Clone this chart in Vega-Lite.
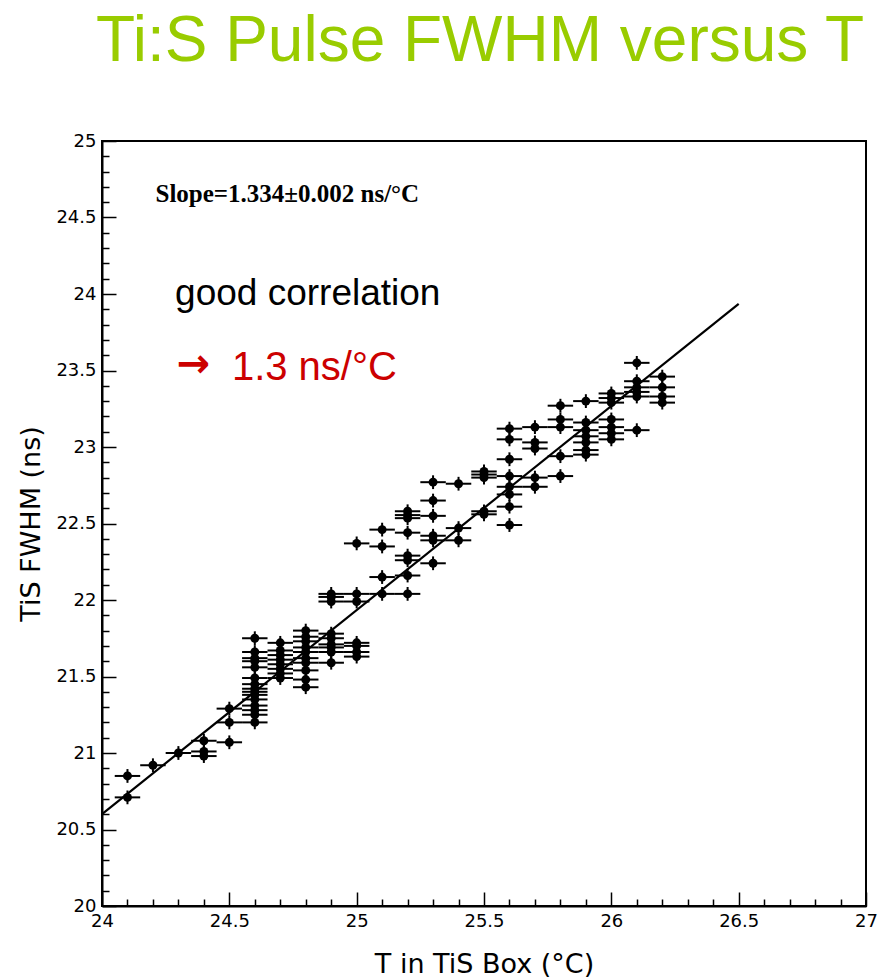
{
  "$schema": "https://vega.github.io/schema/vega-lite/v6.json",
  "width": 764,
  "height": 765,
  "autosize": {"type": "none"},
  "padding": {"left": 102, "top": 141, "right": 19, "bottom": 73},
  "background": "white",
  "title": {
    "text": "Ti:S Pulse FWHM versus T",
    "font": "Liberation Sans",
    "fontSize": 64,
    "fontWeight": "normal",
    "color": "#99CC00",
    "anchor": "middle",
    "dx": -4,
    "offset": 58
  },
  "datasets": {
    "runs": [
      {"t": 24.1, "f": 20.85, "te": 0.05, "fe": 0.045},
      {"t": 24.1, "f": 20.71, "te": 0.05, "fe": 0.045},
      {"t": 24.2, "f": 20.92, "te": 0.05, "fe": 0.045},
      {"t": 24.3, "f": 21.0, "te": 0.05, "fe": 0.045},
      {"t": 24.4, "f": 21.08, "te": 0.05, "fe": 0.045},
      {"t": 24.4, "f": 21.01, "te": 0.05, "fe": 0.045},
      {"t": 24.4, "f": 20.98, "te": 0.05, "fe": 0.045},
      {"t": 24.5, "f": 21.29, "te": 0.05, "fe": 0.045},
      {"t": 24.5, "f": 21.2, "te": 0.05, "fe": 0.045},
      {"t": 24.5, "f": 21.07, "te": 0.05, "fe": 0.045},
      {"t": 24.6, "f": 21.75, "te": 0.05, "fe": 0.045},
      {"t": 24.6, "f": 21.66, "te": 0.05, "fe": 0.045},
      {"t": 24.6, "f": 21.62, "te": 0.05, "fe": 0.045},
      {"t": 24.6, "f": 21.6, "te": 0.05, "fe": 0.045},
      {"t": 24.6, "f": 21.56, "te": 0.05, "fe": 0.045},
      {"t": 24.6, "f": 21.49, "te": 0.05, "fe": 0.045},
      {"t": 24.6, "f": 21.45, "te": 0.05, "fe": 0.045},
      {"t": 24.6, "f": 21.42, "te": 0.05, "fe": 0.045},
      {"t": 24.6, "f": 21.4, "te": 0.05, "fe": 0.045},
      {"t": 24.6, "f": 21.38, "te": 0.05, "fe": 0.045},
      {"t": 24.6, "f": 21.35, "te": 0.05, "fe": 0.045},
      {"t": 24.6, "f": 21.31, "te": 0.05, "fe": 0.045},
      {"t": 24.6, "f": 21.28, "te": 0.05, "fe": 0.045},
      {"t": 24.6, "f": 21.25, "te": 0.05, "fe": 0.045},
      {"t": 24.6, "f": 21.2, "te": 0.05, "fe": 0.045},
      {"t": 24.7, "f": 21.72, "te": 0.05, "fe": 0.045},
      {"t": 24.7, "f": 21.67, "te": 0.05, "fe": 0.045},
      {"t": 24.7, "f": 21.64, "te": 0.05, "fe": 0.045},
      {"t": 24.7, "f": 21.61, "te": 0.05, "fe": 0.045},
      {"t": 24.7, "f": 21.58, "te": 0.05, "fe": 0.045},
      {"t": 24.7, "f": 21.55, "te": 0.05, "fe": 0.045},
      {"t": 24.7, "f": 21.52, "te": 0.05, "fe": 0.045},
      {"t": 24.7, "f": 21.49, "te": 0.05, "fe": 0.045},
      {"t": 24.8, "f": 21.8, "te": 0.05, "fe": 0.045},
      {"t": 24.8, "f": 21.76, "te": 0.05, "fe": 0.045},
      {"t": 24.8, "f": 21.73, "te": 0.05, "fe": 0.045},
      {"t": 24.8, "f": 21.69, "te": 0.05, "fe": 0.045},
      {"t": 24.8, "f": 21.66, "te": 0.05, "fe": 0.045},
      {"t": 24.8, "f": 21.62, "te": 0.05, "fe": 0.045},
      {"t": 24.8, "f": 21.59, "te": 0.05, "fe": 0.045},
      {"t": 24.8, "f": 21.54, "te": 0.05, "fe": 0.045},
      {"t": 24.8, "f": 21.48, "te": 0.05, "fe": 0.045},
      {"t": 24.8, "f": 21.43, "te": 0.05, "fe": 0.045},
      {"t": 24.9, "f": 22.04, "te": 0.05, "fe": 0.045},
      {"t": 24.9, "f": 22.02, "te": 0.05, "fe": 0.045},
      {"t": 24.9, "f": 21.99, "te": 0.05, "fe": 0.045},
      {"t": 24.9, "f": 21.78, "te": 0.05, "fe": 0.045},
      {"t": 24.9, "f": 21.75, "te": 0.05, "fe": 0.045},
      {"t": 24.9, "f": 21.71, "te": 0.05, "fe": 0.045},
      {"t": 24.9, "f": 21.69, "te": 0.05, "fe": 0.045},
      {"t": 24.9, "f": 21.66, "te": 0.05, "fe": 0.045},
      {"t": 24.9, "f": 21.59, "te": 0.05, "fe": 0.045},
      {"t": 25.0, "f": 22.37, "te": 0.05, "fe": 0.045},
      {"t": 25.0, "f": 22.04, "te": 0.05, "fe": 0.045},
      {"t": 25.0, "f": 21.99, "te": 0.05, "fe": 0.045},
      {"t": 25.0, "f": 21.72, "te": 0.05, "fe": 0.045},
      {"t": 25.0, "f": 21.7, "te": 0.05, "fe": 0.045},
      {"t": 25.0, "f": 21.66, "te": 0.05, "fe": 0.045},
      {"t": 25.0, "f": 21.63, "te": 0.05, "fe": 0.045},
      {"t": 25.1, "f": 22.46, "te": 0.05, "fe": 0.045},
      {"t": 25.1, "f": 22.35, "te": 0.05, "fe": 0.045},
      {"t": 25.1, "f": 22.15, "te": 0.05, "fe": 0.045},
      {"t": 25.1, "f": 22.04, "te": 0.05, "fe": 0.045},
      {"t": 25.2, "f": 22.58, "te": 0.05, "fe": 0.045},
      {"t": 25.2, "f": 22.555, "te": 0.05, "fe": 0.045},
      {"t": 25.2, "f": 22.535, "te": 0.05, "fe": 0.045},
      {"t": 25.2, "f": 22.44, "te": 0.05, "fe": 0.045},
      {"t": 25.2, "f": 22.29, "te": 0.05, "fe": 0.045},
      {"t": 25.2, "f": 22.26, "te": 0.05, "fe": 0.045},
      {"t": 25.2, "f": 22.16, "te": 0.05, "fe": 0.045},
      {"t": 25.2, "f": 22.04, "te": 0.05, "fe": 0.045},
      {"t": 25.3, "f": 22.77, "te": 0.05, "fe": 0.045},
      {"t": 25.3, "f": 22.65, "te": 0.05, "fe": 0.045},
      {"t": 25.3, "f": 22.55, "te": 0.05, "fe": 0.045},
      {"t": 25.3, "f": 22.42, "te": 0.05, "fe": 0.045},
      {"t": 25.3, "f": 22.39, "te": 0.05, "fe": 0.045},
      {"t": 25.3, "f": 22.24, "te": 0.05, "fe": 0.045},
      {"t": 25.4, "f": 22.76, "te": 0.05, "fe": 0.045},
      {"t": 25.4, "f": 22.47, "te": 0.05, "fe": 0.045},
      {"t": 25.4, "f": 22.39, "te": 0.05, "fe": 0.045},
      {"t": 25.5, "f": 22.84, "te": 0.05, "fe": 0.045},
      {"t": 25.5, "f": 22.82, "te": 0.05, "fe": 0.045},
      {"t": 25.5, "f": 22.8, "te": 0.05, "fe": 0.045},
      {"t": 25.5, "f": 22.58, "te": 0.05, "fe": 0.045},
      {"t": 25.5, "f": 22.56, "te": 0.05, "fe": 0.045},
      {"t": 25.6, "f": 23.12, "te": 0.05, "fe": 0.045},
      {"t": 25.6, "f": 23.05, "te": 0.05, "fe": 0.045},
      {"t": 25.6, "f": 22.92, "te": 0.05, "fe": 0.045},
      {"t": 25.6, "f": 22.81, "te": 0.05, "fe": 0.045},
      {"t": 25.6, "f": 22.74, "te": 0.05, "fe": 0.045},
      {"t": 25.6, "f": 22.69, "te": 0.05, "fe": 0.045},
      {"t": 25.6, "f": 22.61, "te": 0.05, "fe": 0.045},
      {"t": 25.6, "f": 22.49, "te": 0.05, "fe": 0.045},
      {"t": 25.7, "f": 23.13, "te": 0.05, "fe": 0.045},
      {"t": 25.7, "f": 23.03, "te": 0.05, "fe": 0.045},
      {"t": 25.7, "f": 22.99, "te": 0.05, "fe": 0.045},
      {"t": 25.7, "f": 22.8, "te": 0.05, "fe": 0.045},
      {"t": 25.7, "f": 22.74, "te": 0.05, "fe": 0.045},
      {"t": 25.8, "f": 23.27, "te": 0.05, "fe": 0.045},
      {"t": 25.8, "f": 23.18, "te": 0.05, "fe": 0.045},
      {"t": 25.8, "f": 23.13, "te": 0.05, "fe": 0.045},
      {"t": 25.8, "f": 22.94, "te": 0.05, "fe": 0.045},
      {"t": 25.8, "f": 22.81, "te": 0.05, "fe": 0.045},
      {"t": 25.9, "f": 23.3, "te": 0.05, "fe": 0.045},
      {"t": 25.9, "f": 23.16, "te": 0.05, "fe": 0.045},
      {"t": 25.9, "f": 23.11, "te": 0.05, "fe": 0.045},
      {"t": 25.9, "f": 23.07, "te": 0.05, "fe": 0.045},
      {"t": 25.9, "f": 23.03, "te": 0.05, "fe": 0.045},
      {"t": 25.9, "f": 22.98, "te": 0.05, "fe": 0.045},
      {"t": 25.9, "f": 22.95, "te": 0.05, "fe": 0.045},
      {"t": 26.0, "f": 23.35, "te": 0.05, "fe": 0.045},
      {"t": 26.0, "f": 23.32, "te": 0.05, "fe": 0.045},
      {"t": 26.0, "f": 23.29, "te": 0.05, "fe": 0.045},
      {"t": 26.0, "f": 23.18, "te": 0.05, "fe": 0.045},
      {"t": 26.0, "f": 23.13, "te": 0.05, "fe": 0.045},
      {"t": 26.0, "f": 23.09, "te": 0.05, "fe": 0.045},
      {"t": 26.0, "f": 23.05, "te": 0.05, "fe": 0.045},
      {"t": 26.1, "f": 23.55, "te": 0.05, "fe": 0.045},
      {"t": 26.1, "f": 23.43, "te": 0.05, "fe": 0.045},
      {"t": 26.1, "f": 23.39, "te": 0.05, "fe": 0.045},
      {"t": 26.1, "f": 23.36, "te": 0.05, "fe": 0.045},
      {"t": 26.1, "f": 23.33, "te": 0.05, "fe": 0.045},
      {"t": 26.1, "f": 23.11, "te": 0.05, "fe": 0.045},
      {"t": 26.2, "f": 23.46, "te": 0.05, "fe": 0.045},
      {"t": 26.2, "f": 23.39, "te": 0.05, "fe": 0.045},
      {"t": 26.2, "f": 23.33, "te": 0.05, "fe": 0.045},
      {"t": 26.2, "f": 23.29, "te": 0.05, "fe": 0.045}
    ],
    "fit": [
      {"t": 24.0, "f": 20.6},
      {"t": 26.5, "f": 23.935}
    ],
    "notes": [
      {"t": 24.21, "f": 24.6, "label": "Slope=1.334±0.002 ns/°C"}
    ],
    "remarks": [
      {"t": 24.287, "f": 23.93, "label": "good correlation", "kind": "plain", "size": 37},
      {"t": 24.51, "f": 23.44, "label": "1.3 ns/°C", "kind": "result", "size": 40}
    ],
    "pointer": [
      {"t": 24.294, "f": 23.46, "label": "→"}
    ]
  },
  "encoding": {
    "x": {
      "field": "t",
      "type": "quantitative",
      "scale": {"domain": [24, 27], "nice": false, "zero": false},
      "axis": {
        "title": "T in TiS Box (°C)",
        "values": [24, 24.1, 24.2, 24.3, 24.4, 24.5, 24.6, 24.7, 24.8, 24.9, 25, 25.1, 25.2, 25.3, 25.4, 25.5, 25.6, 25.7, 25.8, 25.9, 26, 26.1, 26.2, 26.3, 26.4, 26.5, 26.6, 26.7, 26.8, 26.9, 27],
        "labelExpr": "abs(datum.value * 2 - round(datum.value * 2)) < 0.001 ? format(datum.value, '.3~g') : ''",
        "tickSize": {"condition": {"test": "abs(datum.value * 2 - round(datum.value * 2)) < 0.001", "value": -14}, "value": -7},
        "labelPadding": 20,
        "titlePadding": 14
      }
    },
    "y": {
      "field": "f",
      "type": "quantitative",
      "scale": {"domain": [20, 25], "nice": false, "zero": false},
      "axis": {
        "title": "TiS FWHM (ns)",
        "values": [20, 20.1, 20.2, 20.3, 20.4, 20.5, 20.6, 20.7, 20.8, 20.9, 21, 21.1, 21.2, 21.3, 21.4, 21.5, 21.6, 21.7, 21.8, 21.9, 22, 22.1, 22.2, 22.3, 22.4, 22.5, 22.6, 22.7, 22.8, 22.9, 23, 23.1, 23.2, 23.3, 23.4, 23.5, 23.6, 23.7, 23.8, 23.9, 24, 24.1, 24.2, 24.3, 24.4, 24.5, 24.6, 24.7, 24.8, 24.9, 25],
        "labelExpr": "abs(datum.value * 2 - round(datum.value * 2)) < 0.001 ? format(datum.value, '.3~g') : ''",
        "tickSize": {"condition": {"test": "abs(datum.value * 2 - round(datum.value * 2)) < 0.001", "value": -14}, "value": -7},
        "labelPadding": 20,
        "titlePadding": 10
      }
    }
  },
  "layer": [
    {
      "data": {"name": "runs"},
      "mark": {"type": "errorbar", "color": "black", "thickness": 2},
      "encoding": {
        "xError": {"field": "te"}
      }
    },
    {
      "data": {"name": "runs"},
      "mark": {"type": "errorbar", "color": "black", "thickness": 2},
      "encoding": {
        "yError": {"field": "fe"}
      }
    },
    {
      "data": {"name": "runs"},
      "mark": {"type": "point", "shape": "circle", "filled": true, "color": "black", "opacity": 1, "size": 80},
      "encoding": {}
    },
    {
      "data": {"name": "fit"},
      "mark": {"type": "line", "color": "black", "strokeWidth": 2.2},
      "encoding": {}
    },
    {
      "data": {"name": "notes"},
      "mark": {"type": "text", "font": "Liberation Serif", "fontWeight": "bold", "fontSize": 25, "align": "left", "baseline": "alphabetic", "color": "black"},
      "encoding": {
        "text": {"field": "label"}
      }
    },
    {
      "data": {"name": "remarks"},
      "mark": {"type": "text", "font": "Liberation Sans", "align": "left", "baseline": "alphabetic"},
      "encoding": {
        "text": {"field": "label"},
        "size": {"field": "size", "type": "quantitative", "scale": null},
        "color": {
          "field": "kind",
          "type": "nominal",
          "scale": {"domain": ["plain", "result"], "range": ["#000000", "#CC0000"]},
          "legend": null
        }
      }
    },
    {
      "data": {"name": "pointer"},
      "mark": {"type": "text", "font": "DejaVu Sans", "fontWeight": "bold", "fontSize": 40, "align": "left", "baseline": "alphabetic", "color": "#CC0000"},
      "encoding": {
        "text": {"field": "label"}
      }
    }
  ],
  "config": {
    "view": {"stroke": "black", "strokeWidth": 2},
    "axis": {
      "grid": false,
      "domainColor": "black",
      "domainWidth": 2,
      "tickColor": "black",
      "tickWidth": 1.5,
      "labelFont": "DejaVu Sans",
      "labelFontSize": 18,
      "labelColor": "black",
      "labelOverlap": false,
      "labelFlush": false,
      "titleFont": "DejaVu Sans",
      "titleFontSize": 27,
      "titleFontWeight": "normal",
      "titleColor": "black"
    }
  }
}
